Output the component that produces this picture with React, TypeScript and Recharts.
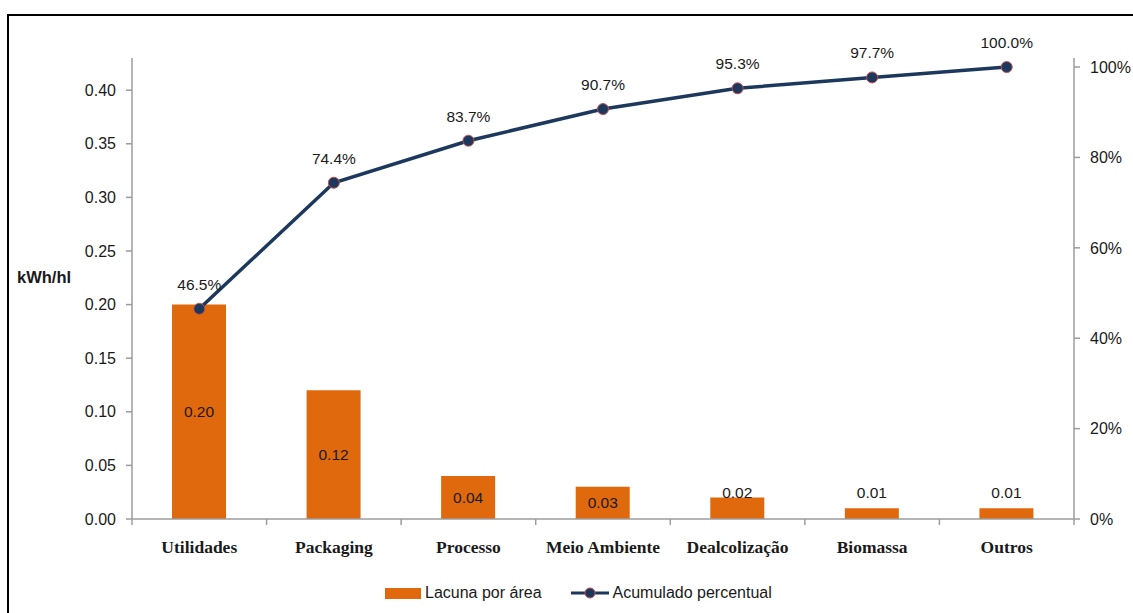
import React from 'react';
import { ComposedChart, Bar, Line, XAxis, YAxis, Legend, LabelList } from 'recharts';

const categories = ['Utilidades', 'Packaging', 'Processo', 'Meio Ambiente', 'Dealcolização', 'Biomassa', 'Outros'];
const lacunaValues = [0.2, 0.12, 0.04, 0.03, 0.02, 0.01, 0.01];
const cumulativePct = [46.5, 74.4, 83.7, 90.7, 95.3, 97.7, 100.0];
const leftTicks = [0, 0.05, 0.1, 0.15, 0.2, 0.25, 0.3, 0.35, 0.4];
const rightTicks = [0, 0.2, 0.4, 0.6, 0.8, 1.0];
const seriesNames = ['Lacuna por área', 'Acumulado percentual'];

const data = categories.map((name, i) => ({
  name,
  lacuna: lacunaValues[i],
  cum: cumulativePct[i] / 100,
}));

const BAR_COLOR = '#E0690D';
const LINE_COLOR = '#1C385C';
const DOT_STROKE = '#C0504D';
const AXIS_COLOR = '#9C9C9C';
const TEXT_COLOR = '#1a1a1a';
const SANS = '"Liberation Sans", Arial, sans-serif';
const SERIF = '"Liberation Serif", "Times New Roman", serif';

const CategoryTick = (props: any) => {
  const { x, y, payload, index, visibleTicksCount } = props;
  const half = payload && typeof payload.offset === 'number' && payload.offset > 0 ? payload.offset : 67.3;
  return (
    <g>
      <line x1={x - half} x2={x - half} y1={y} y2={y + 6} stroke={AXIS_COLOR} strokeWidth={1.5} />
      {index === visibleTicksCount - 1 && (
        <line x1={x + half} x2={x + half} y1={y} y2={y + 6} stroke={AXIS_COLOR} strokeWidth={1.5} />
      )}
      <text
        x={x}
        y={y + 34}
        textAnchor="middle"
        fontFamily={SERIF}
        fontWeight="bold"
        fontSize={17.5}
        fill={TEXT_COLOR}
      >
        {payload.value}
      </text>
    </g>
  );
};

const BarValueLabel = (props: any) => {
  const vb = props.viewBox || {};
  const x = props.x ?? vb.x;
  const y = props.y ?? vb.y;
  const width = props.width ?? vb.width;
  const height = props.height ?? vb.height;
  const value = props.value;
  const cx = x + width / 2;
  const cy = height >= 25 ? y + height / 2 : y + height - 27;
  return (
    <text
      x={cx}
      y={cy}
      dy="0.36em"
      textAnchor="middle"
      fontFamily={SANS}
      fontSize={15.5}
      fill={TEXT_COLOR}
    >
      {Number(value).toFixed(2)}
    </text>
  );
};

const LegendContent = () => (
  <div
    style={{
      display: 'flex',
      alignItems: 'center',
      paddingLeft: 385,
      fontFamily: SANS,
      fontSize: 16,
      color: TEXT_COLOR,
      height: 20,
    }}
  >
    <span style={{ display: 'inline-block', width: 36, height: 11, background: BAR_COLOR, marginRight: 4 }} />
    <span style={{ marginRight: 29 }}>{seriesNames[0]}</span>
    <svg width={38} height={14} style={{ marginRight: 4 }}>
      <line x1={0} x2={38} y1={7} y2={7} stroke={LINE_COLOR} strokeWidth={3} />
      <circle cx={19} cy={7} r={5} fill={LINE_COLOR} stroke={DOT_STROKE} strokeWidth={1} />
    </svg>
    <span>{seriesNames[1]}</span>
  </div>
);

const YTitle = (props: any) => {
  const vb = props.viewBox || {};
  return (
    <text
      x={vb.x - 55}
      y={vb.y + vb.height / 2 - 11}
      dy="0.36em"
      textAnchor="start"
      fontFamily={SANS}
      fontWeight="bold"
      fontSize={16.5}
      fill={TEXT_COLOR}
    >
      kWh/hl
    </text>
  );
};

export default function App() {
  return (
    <div
      style={{
        position: 'fixed',
        left: 0,
        top: 0,
        width: 1133,
        height: 613,
        overflow: 'hidden',
        background: '#fff',
      }}
    >
      <div
        style={{
          position: 'absolute',
          left: 7,
          top: 14,
          width: 1200,
          height: 700,
          border: '2px solid #000',
          boxSizing: 'border-box',
        }}
      />
      <div style={{ position: 'absolute', left: 0, top: 0 }}>
        <ComposedChart
          width={1133}
          height={613}
          data={data}
          margin={{ top: 58, right: 0, bottom: 54, left: 72 }}
          barSize={54}
        >
          <XAxis
            dataKey="name"
            xAxisId={0}
            interval={0}
            height={40}
            axisLine={{ stroke: AXIS_COLOR, strokeWidth: 1.5 }}
            tickLine={false}
            tickSize={0}
            tickMargin={0}
            tick={<CategoryTick />}
          />
          <YAxis
            yAxisId="left"
            orientation="left"
            width={60}
            type="number"
            domain={[0, 0.43]}
            ticks={leftTicks}
            allowDataOverflow
            tickFormatter={(v: number) => v.toFixed(2)}
            axisLine={{ stroke: AXIS_COLOR, strokeWidth: 1.5 }}
            tickLine={{ stroke: AXIS_COLOR, strokeWidth: 1.5 }}
            tickSize={6}
            tickMargin={10}
            tick={{ fill: TEXT_COLOR, fontSize: 16, fontFamily: SANS }}
            label={<YTitle />}
          />
          <YAxis
            yAxisId="right"
            orientation="right"
            width={59}
            type="number"
            domain={[0, 1.02]}
            ticks={rightTicks}
            allowDataOverflow
            tickFormatter={(v: number) => `${Math.round(v * 100)}%`}
            axisLine={{ stroke: AXIS_COLOR, strokeWidth: 1.5 }}
            tickLine={{ stroke: AXIS_COLOR, strokeWidth: 1.5 }}
            tickSize={6}
            tickMargin={10}
            tick={{ fill: TEXT_COLOR, fontSize: 16, fontFamily: SANS }}
          />
          <Legend
            layout="horizontal"
            verticalAlign="middle"
            align="center"
            content={<LegendContent />}
            wrapperStyle={{ top: 583, left: 0, width: 1133, height: 20 }}
          />
          <Bar
            yAxisId="left"
            dataKey="lacuna"
            name={seriesNames[0]}
            fill={BAR_COLOR}
            isAnimationActive={false}
          >
            <LabelList dataKey="lacuna" content={<BarValueLabel />} />
          </Bar>
          <Line
            yAxisId="right"
            dataKey="cum"
            name={seriesNames[1]}
            type="linear"
            stroke={LINE_COLOR}
            strokeWidth={3.5}
            dot={{ r: 5.5, fill: LINE_COLOR, stroke: DOT_STROKE, strokeWidth: 1 }}
            activeDot={false}
            isAnimationActive={false}
          >
            <LabelList
              dataKey="cum"
              position="top"
              offset={19}
              formatter={(v: any) => `${(Number(v) * 100).toFixed(1)}%`}
              style={{ fill: TEXT_COLOR, fontSize: 15.5, fontFamily: SANS }}
            />
          </Line>
        </ComposedChart>
      </div>
    </div>
  );
}
